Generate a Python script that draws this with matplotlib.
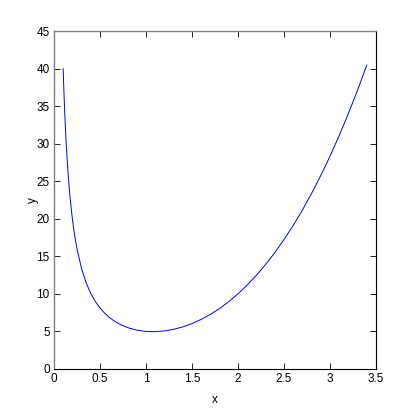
import matplotlib
matplotlib.use('Agg')
import matplotlib.pyplot as plt

# points
x_vals = [0.10, 0.11, 0.12, 0.13, 0.14, 0.15, 0.16, 0.17, 0.18, 0.20, 0.22, 0.25,
          0.30, 0.35, 0.40, 0.45, 0.50, 0.55, 0.60, 0.65, 0.70, 0.75, 0.80, 0.90,
          1.00, 1.10, 1.20, 1.30, 1.40, 1.50, 1.60, 1.70, 1.80, 1.90, 2.00, 2.10,
          2.20, 2.30, 2.40, 2.50, 2.60, 2.70, 2.80, 2.90, 3.00, 3.10, 3.20, 3.30, 3.40]
y_vals = [40.00, 36.36, 33.34, 30.77, 28.57, 26.67, 25.00, 23.54, 22.23, 20.01, 18.19, 16.02,
          13.36, 11.47, 10.06, 8.98, 8.13, 7.44, 6.88, 6.43, 6.06, 5.76, 5.51, 5.17,
          5.00, 4.97, 5.06, 5.27, 5.60, 6.04, 6.60, 7.26, 8.05, 8.96, 10.00, 11.17,
          12.47, 13.91, 15.49, 17.23, 19.11, 21.16, 23.38, 25.77, 28.33, 31.08, 34.02, 37.15, 40.48]

x_ticks = [0, 0.5, 1, 1.5, 2, 2.5, 3, 3.5]
x_tick_labels = ['0', '0.5', '1', '1.5', '2', '2.5', '3', '3.5']
y_ticks = [0, 5, 10, 15, 20, 25, 30, 35, 40, 45]

plt.rcParams['font.family'] = ['Liberation Sans', 'DejaVu Sans']

fig = plt.figure(figsize=(4.15, 4.15), dpi=100)
ax = fig.add_axes([0.130, 0.111, 0.776, 0.814])

ax.plot(x_vals, y_vals, color='#0000ff', linewidth=0.7)

ax.set_xlim(0, 3.5)
ax.set_ylim(0, 45)
ax.set_xticks(x_ticks)
ax.set_xticklabels(x_tick_labels)
ax.set_yticks(y_ticks)
ax.tick_params(direction='in', length=4, width=0.6, labelsize=8.5,
               top=True, right=True, pad=3)

# MATLAB-style frame
for side in ['left', 'top']:
    ax.spines[side].set_color('#808080')
    ax.spines[side].set_linewidth(1.0)
for side in ['right', 'bottom']:
    ax.spines[side].set_color('black')
    ax.spines[side].set_linewidth(0.8)

ax.set_xlabel('x', fontsize=8.5)
ax.set_ylabel('y', fontsize=8.5)
ax.yaxis.set_label_coords(-0.045, 0.5)
ax.xaxis.set_label_coords(0.5, -0.075)

plt.savefig('out.png', dpi=100)
